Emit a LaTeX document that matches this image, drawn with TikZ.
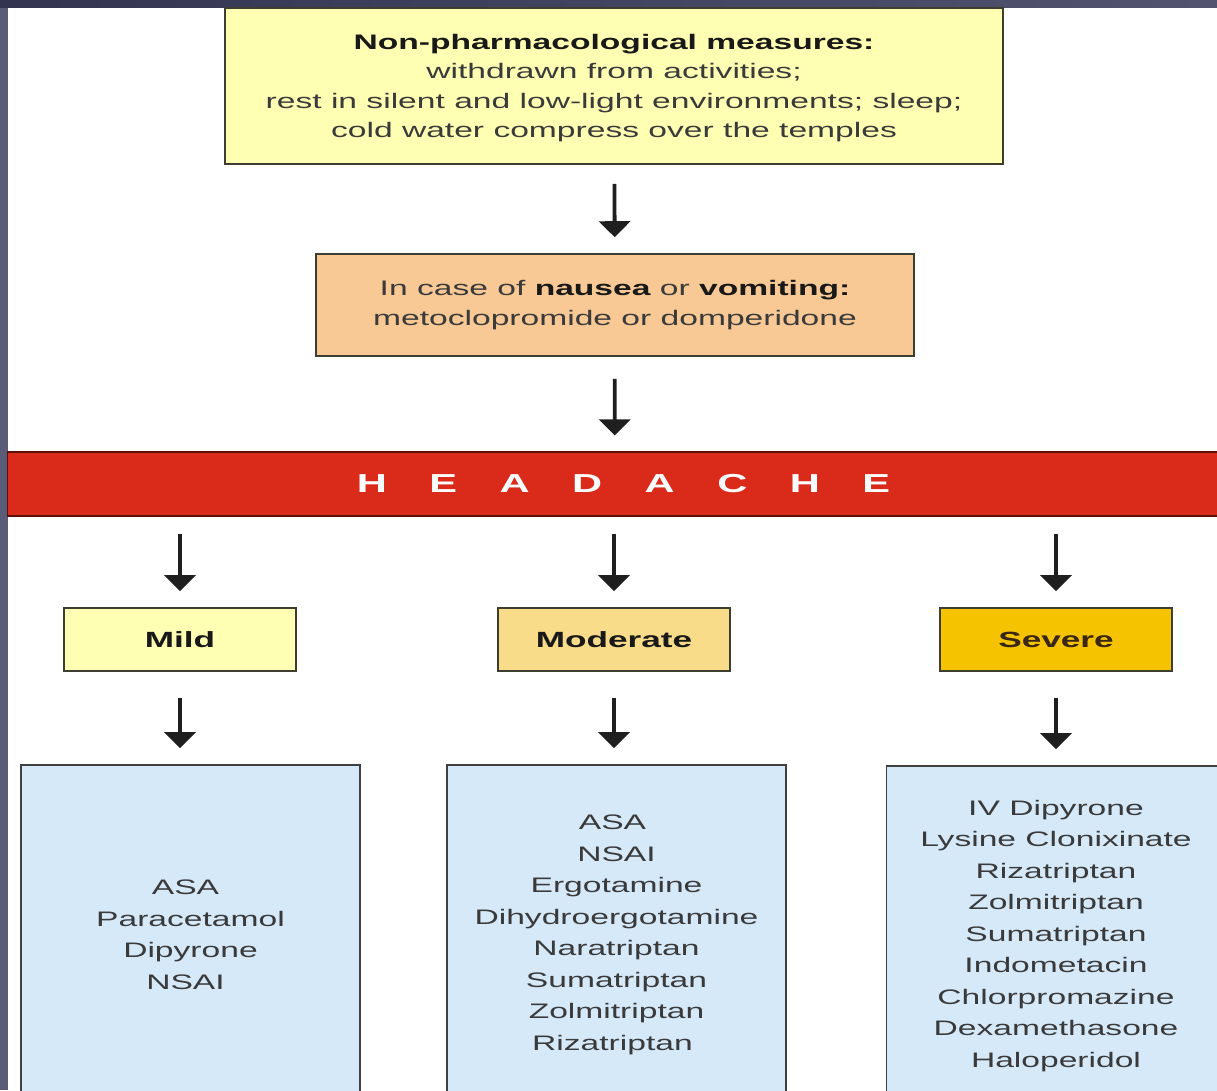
\documentclass[tikz,border=0pt]{standalone}
\usepackage{fontspec}
\setmainfont{Liberation Sans}[FakeStretch=1.6]
\usetikzlibrary{arrows.meta,shadings}
\definecolor{frameL}{HTML}{5A5C77}
\definecolor{frameT}{HTML}{33344F}
\definecolor{paleY}{HTML}{FFFFB4}
\definecolor{peach}{HTML}{F8C995}
\definecolor{redbar}{HTML}{DA2A1A}
\definecolor{modY}{HTML}{F8DC8A}
\definecolor{sevY}{HTML}{F5C300}
\definecolor{paleB}{HTML}{D6E9F9}
\definecolor{edge}{HTML}{3E3E30}
\definecolor{txt}{HTML}{3A3A3A}
\tikzset{
  box/.style={draw=edge, line width=1.6pt, rectangle, inner sep=0pt, align=center, text=txt},
  bodyfont/.style={font=\fontsize{21}{29.3}\selectfont},
  sevbox/.style={box, minimum width=232pt, minimum height=63pt, text=black!90, font=\fontsize{22}{26}\selectfont\bfseries},
  listbox/.style={box, draw=black!75, fill=paleB, minimum width=339pt, minimum height=340pt, font=\fontsize{21}{31.5}\selectfont},
  flow/.style={line width=3.8pt, draw=black!88, -{Triangle[width=31pt,length=16pt]}, shorten <=17pt, shorten >=16pt}
}
\begin{document}
\begin{tikzpicture}[x=1pt,y=-1pt]
\useasboundingbox (0,0) rectangle (1217,1090);
\clip (0,0) rectangle (1217,1090);
\fill[white] (0,0) rectangle (1217,1090);
\fill[frameL] (0,0) rectangle (8,1090);
\shade[left color=frameT, right color=frameL!80!frameT] (0,0) rectangle (1217,7);

% top box
\node[box, bodyfont, fill=paleY, minimum width=778pt, minimum height=156pt, text depth=0pt] (top) at (614,86)
  {\rule{0pt}{3pt}{\color{black!90}\bfseries Non-pharmacological measures:}\\
   withdrawn from activities;\\
   rest in silent and low-light environments; sleep;\\
   cold water compress over the temples};

% nausea box
\node[box, bodyfont, fill=peach, minimum width=598pt, minimum height=102pt] (naus) at (615,305)
  {In case of {\color{black!90}\bfseries nausea} or {\color{black!90}\bfseries vomiting:}\\
   metoclopromide or domperidone};

% headache bar
\node[draw=black!60!redbar, line width=1.2pt, fill=redbar, minimum width=1214pt, minimum height=64pt, inner sep=0pt,
      text=white, font=\fontsize{26}{30}\selectfont\bfseries] (bar) at (614.5,484)
  {\hspace*{18pt}\spaceskip=42.5pt H E A D A C H E};

% severity boxes
\node[sevbox, fill=paleY] (mild) at (180,639.5) {Mild};
\node[sevbox, fill=modY] (mod) at (614,639.5) {Moderate};
\node[sevbox, fill=sevY, text=black!70!brown] (sev) at (1056,639.5) {Severe};

% lists
\node[listbox] (lmild) at (190.5,935) {ASA\hspace*{10pt}\\Paracetamol\hspace*{10pt}\\Dipyrone\hspace*{10pt}\\NSAI\hspace*{10pt}};
\node[listbox] (lmod) at (616.5,935) {ASA\hspace*{8pt}\\NSAI\hspace*{8pt}\\Ergotamine\hspace*{8pt}\\Dihydroergotamine\hspace*{8pt}\\Naratriptan\hspace*{8pt}\\Sumatriptan\hspace*{8pt}\\Zolmitriptan\hspace*{8pt}\\Rizatriptan\hspace*{8pt}};
\node[listbox] (lsev) at (1056,936) {IV Dipyrone\\Lysine Clonixinate\\Rizatriptan\\Zolmitriptan\\Sumatriptan\\Indometacin\\Chlorpromazine\\Dexamethasone\\Haloperidol};

% arrows
\draw[flow, shorten <=19pt] (top) -- (naus);
\draw[flow, shorten <=22pt] (naus) -- (bar);
\draw[flow] (bar.south -| mild) -- (mild);
\draw[flow] (bar.south -| mod) -- (mod);
\draw[flow] (bar.south -| sev) -- (sev);
\draw[flow, shorten <=26pt] (mild) -- (mild |- lmild.north);
\draw[flow, shorten <=26pt] (mod) -- (mod |- lmod.north);
\draw[flow, shorten <=26pt] (sev) -- (sev |- lsev.north);
\end{tikzpicture}
\end{document}
